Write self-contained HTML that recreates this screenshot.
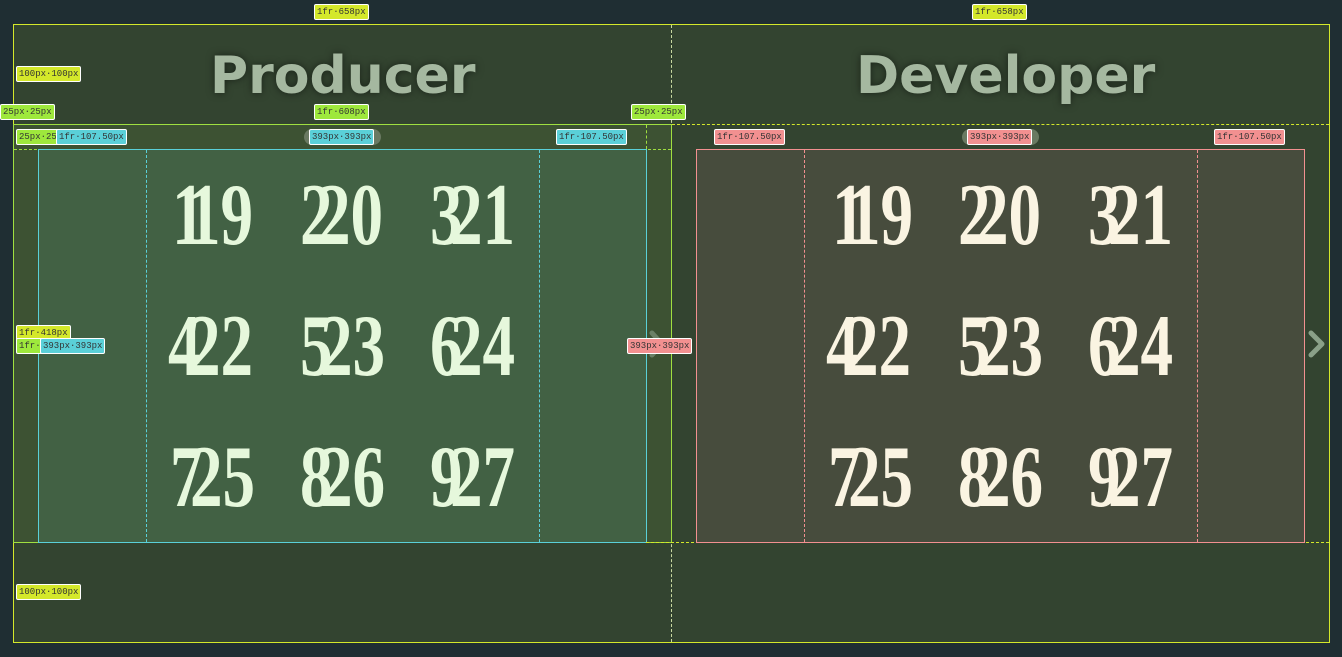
<!DOCTYPE html>
<html><head><meta charset="utf-8"><style>
*{margin:0;padding:0;box-sizing:border-box}
body{width:1342px;height:657px;background:#1f2e33;position:relative;overflow:hidden;font-family:"Liberation Sans",sans-serif}
.abs{position:absolute}
.lb{position:absolute;height:16px;font:9px/14px "Liberation Mono",monospace;color:#333;border:1px solid #fff;border-radius:2px;padding:0 2px;white-space:nowrap}
.y{background:#d4e82a}.g{background:#9ee83c}.c{background:#5ad0d8}.p{background:#f29090}
.h{position:absolute;top:44px;font:bold 52px/64px "DejaVu Sans","Liberation Sans",sans-serif;color:#a5b8a0;text-shadow:0 0 8px rgba(0,0,0,.5)}
.n{position:absolute;font:bold 88px/1 "Liberation Serif",serif;transform:scaleX(.74);transform-origin:0 0;white-space:nowrap}
</style></head><body>
<div class="abs" style="left:13px;top:24px;width:1317px;height:619px;background:#334430;border:1px solid #d4e82a"></div>
<div class="abs" style="left:671px;top:25px;height:617px;border-left:1px dashed #c8d8a0"></div>
<div class="abs" style="left:13px;top:124px;width:659px;height:419px;background:#3d5233;border:1px solid #a0e040"></div>
<div class="abs" style="left:14px;top:149px;width:657px;border-top:1px dashed #a0e040"></div>
<div class="abs" style="left:646px;top:125px;height:24px;border-left:1px dashed #a0e040"></div>
<div class="abs" style="left:38px;top:149px;width:609px;height:394px;background:#426144;border:1px solid #5ad0d8"></div>
<div class="abs" style="left:146px;top:150px;height:392px;border-left:1px dashed #5ad0d8"></div>
<div class="abs" style="left:539px;top:150px;height:392px;border-left:1px dashed #5ad0d8"></div>
<div class="abs" style="left:672px;top:124px;width:657px;border-top:1px dashed #d4e82a"></div>
<div class="abs" style="left:646px;top:542px;width:683px;border-top:1px dashed #d4e82a"></div>
<div class="abs" style="left:696px;top:149px;width:609px;height:394px;background:#474c3d;border:1px solid #f29090"></div>
<div class="abs" style="left:804px;top:150px;height:392px;border-left:1px dashed #f29090"></div>
<div class="abs" style="left:1197px;top:150px;height:392px;border-left:1px dashed #f29090"></div>
<div class="h" style="left:210px">Producer</div>
<div class="h" style="left:856px">Developer</div>
<svg class="abs" style="left:640px;top:325px" width="30" height="40"><polyline points="12,8 22,19 12,30" fill="none" stroke="#8aa088" stroke-width="5" stroke-linecap="round" stroke-linejoin="round" opacity=".6"/></svg>
<svg class="abs" style="left:1302px;top:325px" width="30" height="40"><polyline points="9,8 20,19 9,30" fill="none" stroke="#8aa088" stroke-width="5" stroke-linecap="round" stroke-linejoin="round"/></svg>
<div style="color:#e6f8dc">
<span class="n" style="left:172px;top:172px">1</span><span class="n" style="left:188px;top:172px">19</span>
<span class="n" style="left:300px;top:172px">2</span><span class="n" style="left:318px;top:172px">20</span>
<span class="n" style="left:430px;top:172px">3</span><span class="n" style="left:450px;top:172px">21</span>
<span class="n" style="left:168px;top:303px">4</span><span class="n" style="left:188px;top:303px">22</span>
<span class="n" style="left:300px;top:303px">5</span><span class="n" style="left:320px;top:303px">23</span>
<span class="n" style="left:430px;top:303px">6</span><span class="n" style="left:450px;top:303px">24</span>
<span class="n" style="left:170px;top:434px">7</span><span class="n" style="left:190px;top:434px">25</span>
<span class="n" style="left:300px;top:434px">8</span><span class="n" style="left:320px;top:434px">26</span>
<span class="n" style="left:430px;top:434px">9</span><span class="n" style="left:450px;top:434px">27</span>
</div>
<div style="color:#faf4e2">
<span class="n" style="left:832px;top:172px">1</span><span class="n" style="left:848px;top:172px">19</span>
<span class="n" style="left:958px;top:172px">2</span><span class="n" style="left:976px;top:172px">20</span>
<span class="n" style="left:1088px;top:172px">3</span><span class="n" style="left:1108px;top:172px">21</span>
<span class="n" style="left:826px;top:303px">4</span><span class="n" style="left:846px;top:303px">22</span>
<span class="n" style="left:958px;top:303px">5</span><span class="n" style="left:978px;top:303px">23</span>
<span class="n" style="left:1088px;top:303px">6</span><span class="n" style="left:1108px;top:303px">24</span>
<span class="n" style="left:828px;top:434px">7</span><span class="n" style="left:848px;top:434px">25</span>
<span class="n" style="left:958px;top:434px">8</span><span class="n" style="left:978px;top:434px">26</span>
<span class="n" style="left:1088px;top:434px">9</span><span class="n" style="left:1108px;top:434px">27</span>
</div>
<div class="lb y" style="left:314px;top:4px">1fr·658px</div>
<div class="lb y" style="left:972px;top:4px">1fr·658px</div>
<div class="lb y" style="left:16px;top:66px">100px·100px</div>
<div class="lb y" style="left:16px;top:584px">100px·100px</div>
<div class="lb g" style="left:0px;top:104px">25px·25px</div>
<div class="lb g" style="left:631px;top:104px">25px·25px</div>
<div class="lb g" style="left:314px;top:104px">1fr·608px</div>
<div class="lb g" style="left:16px;top:129px;width:44px;overflow:hidden">25px·25px</div>
<div class="lb c" style="left:56px;top:129px">1fr·107.50px</div>
<div class="lb c" style="left:556px;top:129px">1fr·107.50px</div>
<div class="abs" style="left:304px;top:129px;width:77px;height:16px;border-radius:8px;background:#6a7a62"></div>
<div class="lb c" style="left:309px;top:129px">393px·393px</div>
<div class="lb p" style="left:714px;top:129px">1fr·107.50px</div>
<div class="lb p" style="left:1214px;top:129px">1fr·107.50px</div>
<div class="abs" style="left:962px;top:129px;width:77px;height:16px;border-radius:8px;background:#6a7a62"></div>
<div class="lb p" style="left:967px;top:129px">393px·393px</div>
<div class="lb y" style="left:16px;top:325px">1fr·418px</div>
<div class="lb g" style="left:16px;top:338px">1fr·418px</div>
<div class="lb c" style="left:40px;top:338px">393px·393px</div>
<div class="lb p" style="left:627px;top:338px">393px·393px</div>
</body></html>
